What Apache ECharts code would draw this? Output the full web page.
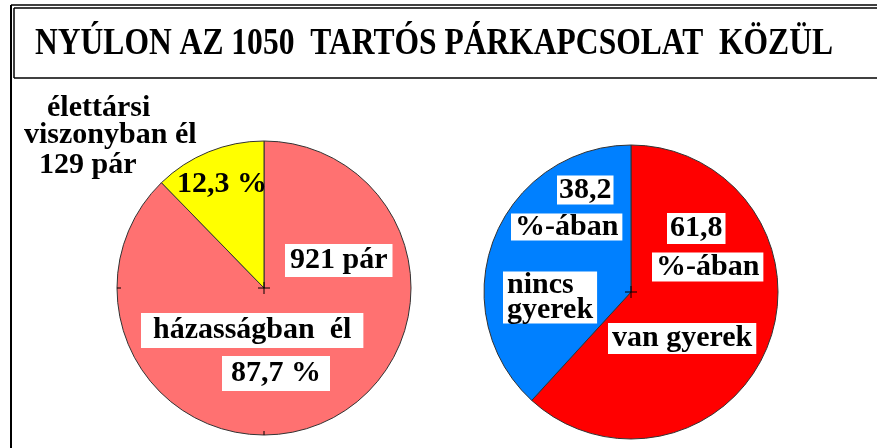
<!DOCTYPE html>
<html>
<head>
<meta charset="utf-8">
<script src="https://cdn.jsdelivr.net/npm/echarts@6/dist/echarts.min.js"></script>
<style>
html, body { margin: 0; padding: 0; background: #fff; }
#chart { width: 877px; height: 448px; }
</style>
</head>
<body>
<div id="chart"></div>
<script>
var titleText = 'NYÚLON AZ 1050  TARTÓS PÁRKAPCSOLAT  KÖZÜL';

// párkapcsolat típusa
var partnerNames = ['házasságban  él', 'élettársi viszonyban él'];
var partnerCounts = [921, 129];
var partnerPct = [87.7, 12.3];
var partnerColors = ['#ff7171', '#ffff00'];

// gyerek
var childNames = ['van gyerek', 'nincs gyerek'];
var childPct = [61.8, 38.2];
var childColors = ['#ff0000', '#0080ff'];

function hu(v) { return v.toFixed(1).replace('.', ','); }

var chart = echarts.init(document.getElementById('chart'));

var serif = '"Liberation Serif", "Times New Roman", serif';
var titleFont = 'bold 37px ' + serif;

// cím szélessége -> összenyomás
var ctx = document.createElement('canvas').getContext('2d');
ctx.font = titleFont;
var titleScale = 798 / ctx.measureText(titleText).width;

function label(text, x, y, opts) {
	opts = opts || {};
	return {
		type: 'text',
		left: x,
		top: y,
		z: 10,
		style: {
			text: text,
			fill: '#000',
			font: 'bold ' + (opts.size || 30) + 'px ' + serif,
			backgroundColor: opts.bg === false ? null : '#fff',
			padding: opts.padding || [2, 3, 2, 3],
			lineHeight: opts.lineHeight || 27
		}
	};
}

function seg(x1, y1, x2, y2, w) {
	return { type: 'line', z: 5, shape: { x1: x1, y1: y1, x2: x2, y2: y2 }, style: { stroke: '#000', lineWidth: w || 1 } };
}

var partnerData = [];
for (var i in partnerNames) {
	partnerData.push({ name: partnerNames[i], value: partnerCounts[i], itemStyle: { color: partnerColors[i] } });
}
var childData = [];
for (var i in childNames) {
	childData.push({ name: childNames[i], value: childPct[i], itemStyle: { color: childColors[i] } });
}

var graphics = [
	// keret
	seg(11, 5, 877, 5, 1.5),
	seg(14, 8, 877, 8, 1.5),
	seg(11, 5, 11, 448, 2),
	seg(14, 8, 14, 78, 1.5),
	seg(14, 78, 877, 78, 1.5),
	{
		type: 'text', x: 35, y: 26, scaleX: titleScale, z: 10,
		style: { text: titleText, fill: '#000', font: titleFont }
	},
	// bal kör feliratai
	label('élettársi', 44, 93, { bg: false }),
	label('viszonyban él', 21, 120, { bg: false }),
	label(partnerCounts[1] + ' pár', 36, 150, { bg: false }),
	label(hu(partnerPct[1]) + ' %', 174, 169, { bg: false }),
	label(partnerCounts[0] + ' pár', 285, 244, { padding: [3, 5, 3, 5] }),
	label(partnerNames[0], 141, 313, { padding: [4, 12, 4, 12] }),
	label(hu(partnerPct[0]) + ' %', 222, 356, { padding: [4, 9, 4, 9] }),
	// jobb kör feliratai
	label(hu(childPct[1]), 557, 175, { padding: [1, 2, 1, 2] }),
	label('%-ában', 511, 212, { padding: [0, 4, 0, 4] }),
	label('nincs\ngyerek', 503, 270, { lineHeight: 25, padding: [1, 4, 1, 4] }),
	label(hu(childPct[0]), 667, 213, { padding: [2, 3, 2, 3] }),
	label('%-ában', 652, 252, { padding: [1, 4, 1, 4] }),
	label(childNames[0], 608, 323, { padding: [2, 4, 2, 4] }),
	// középpont és szél jelek
	seg(258, 288, 270, 288),
	seg(264, 282, 264, 294),
	seg(117, 288, 121, 288),
	seg(264, 431, 264, 435),
	seg(625, 292, 637, 292),
	seg(631, 286, 631, 298)
];

var option = {
	backgroundColor: '#fff',
	animation: false,
	graphic: graphics,
	series: [
		{
			name: 'párkapcsolat',
			type: 'pie',
			radius: 147,
			center: [264, 288],
			startAngle: 90,
			clockwise: true,
			label: { show: false },
			labelLine: { show: false },
			itemStyle: { borderColor: '#333', borderWidth: 1 },
			emphasis: { disabled: true },
			data: partnerData
		},
		{
			name: 'gyerek',
			type: 'pie',
			radius: 147,
			center: [631, 292],
			startAngle: 90,
			clockwise: true,
			label: { show: false },
			labelLine: { show: false },
			itemStyle: { borderColor: '#333', borderWidth: 1 },
			emphasis: { disabled: true },
			data: childData
		}
	]
};

chart.setOption(option);
</script>
</body>
</html>
